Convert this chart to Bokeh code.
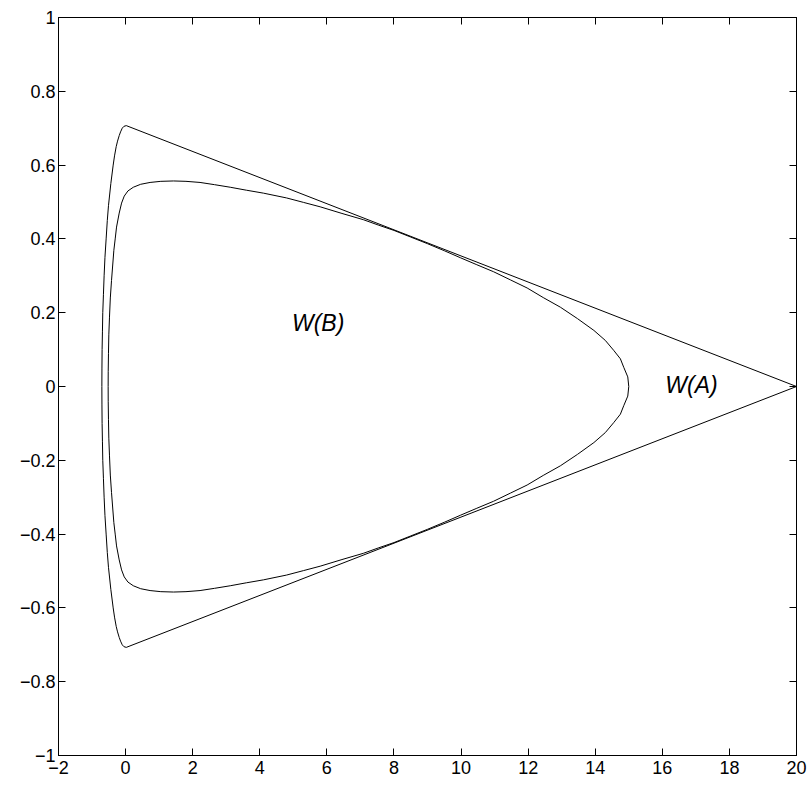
from bokeh.plotting import figure
from bokeh.models import LinearAxis, FixedTicker
from bokeh.core.properties import value
from bokeh.embed import file_html
from bokeh.resources import INLINE

# ---- data ----
x_ticks = [-2, 0, 2, 4, 6, 8, 10, 12, 14, 16, 18, 20]
y_ticks = [-1, -0.8, -0.6, -0.4, -0.2, 0, 0.2, 0.4, 0.6, 0.8, 1]

# W(A): outer boundary (top vertex -> right vertex -> bottom vertex -> left arc)
wa_x = [0.02, 20.0, 0.02, -0.05, -0.10, -0.15, -0.19, -0.24, -0.28, -0.33,
        -0.37, -0.44, -0.51, -0.545, -0.58, -0.615, -0.64, -0.66, -0.68, -0.69,
        -0.70, -0.705, -0.707, -0.705, -0.70, -0.69, -0.68, -0.66, -0.64, -0.615,
        -0.58, -0.545, -0.51, -0.44, -0.37, -0.33, -0.28, -0.24, -0.19, -0.15,
        -0.10, -0.05, 0.02]
wa_y = [0.707, 0.0, -0.707, -0.705, -0.70, -0.69, -0.68, -0.665, -0.65, -0.625,
        -0.60, -0.55, -0.49, -0.45, -0.40, -0.35, -0.30, -0.25, -0.20, -0.15,
        -0.10, -0.05, 0.0, 0.05, 0.10, 0.15, 0.20, 0.25, 0.30, 0.35,
        0.40, 0.45, 0.49, 0.55, 0.60, 0.625, 0.65, 0.665, 0.68, 0.69,
        0.70, 0.705, 0.707]

# W(B): inner boundary (right tip -> top -> left side -> bottom -> right tip)
wb_x = [15.0, 14.97, 14.85, 14.75, 14.55, 14.30, 13.96, 13.47, 12.96, 12.45,
        11.97, 11.47, 10.97, 10.47, 9.98, 9.50, 9.00, 8.50, 8.00, 7.55,
        7.09, 6.45, 5.80, 5.30, 4.80, 4.11, 3.60, 3.12, 2.65, 2.22,
        1.80, 1.43, 1.05, 0.73, 0.45, 0.23, 0.07, -0.04, -0.12, -0.19,
        -0.27, -0.31, -0.35, -0.42, -0.455, -0.48, -0.50, -0.51, -0.518, -0.52,
        -0.518, -0.51, -0.50, -0.48, -0.455, -0.42, -0.35, -0.31, -0.27, -0.19,
        -0.12, -0.04, 0.07, 0.23, 0.45, 0.73, 1.05, 1.43, 1.80, 2.22,
        2.65, 3.12, 3.60, 4.11, 4.80, 5.30, 5.80, 6.45, 7.09, 7.55,
        8.00, 8.50, 9.00, 9.50, 9.98, 10.47, 10.97, 11.47, 11.97, 12.45,
        12.96, 13.47, 13.96, 14.30, 14.55, 14.75, 14.85, 14.97, 15.0]
wb_y = [0.0, 0.026, 0.052, 0.075, 0.098, 0.125, 0.152, 0.184, 0.215, 0.241,
        0.267, 0.289, 0.311, 0.330, 0.349, 0.368, 0.387, 0.405, 0.423, 0.437,
        0.452, 0.469, 0.487, 0.499, 0.511, 0.524, 0.532, 0.540, 0.547, 0.553,
        0.556, 0.557, 0.556, 0.553, 0.548, 0.540, 0.530, 0.516, 0.497, 0.470,
        0.432, 0.400, 0.369, 0.287, 0.240, 0.188, 0.140, 0.090, 0.040, 0.0,
        -0.040, -0.090, -0.140, -0.188, -0.240, -0.287, -0.369, -0.400, -0.432, -0.470,
        -0.497, -0.516, -0.530, -0.540, -0.548, -0.553, -0.556, -0.557, -0.556, -0.553,
        -0.547, -0.540, -0.532, -0.524, -0.511, -0.499, -0.487, -0.469, -0.452, -0.437,
        -0.423, -0.405, -0.387, -0.368, -0.349, -0.330, -0.311, -0.289, -0.267, -0.241,
        -0.215, -0.184, -0.152, -0.125, -0.098, -0.075, -0.052, -0.026, 0.0]

label_text = ["W(B)", "W(A)"]
label_x = [5.74, 16.87]
label_y = [0.173, 0.005]

# ---- figure ----
FONT = "Liberation Sans"
p = figure(width=808, height=787, x_range=(-2, 20), y_range=(-1, 1),
           output_backend="svg", toolbar_location=None,
           min_border_left=58, min_border_right=12,
           min_border_top=17, min_border_bottom=32)
p.grid.visible = False
p.outline_line_color = "black"
p.outline_line_width = 1
p.background_fill_color = "white"
p.border_fill_color = "white"


def fmt(v):
    s = ("%g" % v)
    return s.replace("-", "\u2212")


def style(axis, ticks, labels=True, standoff=5):
    axis.ticker = FixedTicker(ticks=ticks)
    axis.major_tick_in = 7
    axis.major_tick_out = 0
    axis.major_tick_line_color = "black"
    axis.minor_tick_line_color = None
    axis.axis_line_color = "black"
    axis.axis_line_width = 1
    if labels:
        axis.major_label_overrides = {t: fmt(t) for t in ticks}
        axis.major_label_text_font = FONT
        axis.major_label_text_font_size = "18px"
        axis.major_label_text_color = "black"
        axis.major_label_standoff = standoff
    else:
        axis.major_label_text_color = None
        axis.major_label_text_font_size = "1px"
        axis.major_label_standoff = 0


style(p.xaxis[0], x_ticks, standoff=5)
style(p.yaxis[0], y_ticks, standoff=3)
top = LinearAxis()
right = LinearAxis()
style(top, x_ticks, labels=False)
style(right, y_ticks, labels=False)
p.add_layout(top, "above")
p.add_layout(right, "right")

p.line(wa_x, wa_y, line_color="black", line_width=1)
p.line(wb_x, wb_y, line_color="black", line_width=1)

p.text(x=label_x, y=label_y, text=label_text, text_align="center",
       text_baseline="middle", text_font=value(FONT),
       text_font_style="italic", text_font_size="23px", text_color="black")

open("out.html", "w").write(file_html(p, INLINE))
